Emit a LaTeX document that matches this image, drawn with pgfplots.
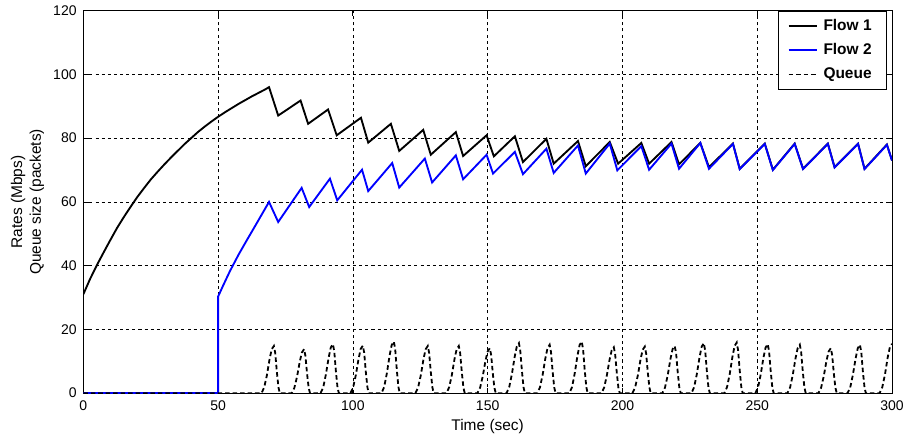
\documentclass[border=0pt]{standalone}
\usepackage{fontspec}
\setmainfont{Liberation Sans}
\usepackage{pgfplots}
\pgfplotsset{compat=1.18}

\definecolor{flowblue}{RGB}{0,0,255}

\begin{document}
\begin{tikzpicture}
\useasboundingbox (-62.5pt,-35.8pt) rectangle (618pt,295pt);
\begin{axis}[
  at={(0,0)}, anchor=south west,
  scale only axis,
  width=606.75pt, height=287pt,
  xmin=0, xmax=300, ymin=0, ymax=120,
  xtick={0,50,...,300}, ytick={0,20,...,120},
  /pgf/number format/assume math mode=true,
  tick label style={font=\fontsize{10.5}{12}\selectfont},
  xticklabel style={yshift=-2.5pt},
  yticklabel style={xshift=-1.5pt},
  label style={font=\fontsize{11.6}{14}\selectfont},
  xlabel={Time (sec)},
  ylabel={Rates (Mbps)\\Queue size (packets)},
  ylabel style={align=center},
  xlabel style={yshift=1pt},
  axis line style={black, line width=0.7pt},
  tick style={black, line width=0.6pt},
  major tick length=4pt,
  tick align=inside,
  grid=major,
  major grid style={black, line width=0.55pt, dash pattern=on 2.3pt off 2.3pt},
  legend cell align=left,
  legend image code/.code={\draw[#1] (0pt,0pt) -- (21.5pt,0pt);},
  legend style={
    at={(rel axis cs:1,1)}, anchor=north east, xshift=-4pt,
    draw=black, line width=0.6pt, fill=white,
    font=\bfseries\fontsize{11.6}{13}\selectfont,
    inner xsep=7pt, inner ysep=4pt, row sep=4.5pt,
    nodes={inner xsep=4pt}
  },
]

% Flow 1: slow start, then AIMD sawtooth
\addplot[black, line width=1.4pt] coordinates {
(0,31.0) (2.5,35.8) (5,40.1) (7.5,44.1) (10,48.0) (12.5,51.8) (15,55.2)
(17.5,58.4) (20,61.5) (22.5,64.3) (25,67.0) (27.5,69.4) (30,71.7)
(32.5,73.9) (35,76.0) (37.5,78.1) (40,80.0) (42.5,81.9) (45,83.6)
(47.5,85.2) (50,86.7) (52.5,88.1) (55,89.4) (57.5,90.7) (60,91.9)
(62.5,93.1) (65,94.2) (67.5,95.3) (68.9,96.0)
(72.3,87.1) (80.6,91.8) (83.4,84.5) (90.8,89.0) (94.0,80.9)
(103.0,86.4) (105.7,78.6) (114.1,84.5) (117.2,76.0) (126.1,82.6)
(128.9,74.8) (138.2,81.9) (140.9,74.4) (149.6,80.9) (152.3,74.3)
(160.1,80.6) (163.1,72.5) (171.8,79.8) (174.5,72.0) (183.5,79.1)
(186.4,71.2) (195.3,78.8) (198.4,72.0) (207.0,78.5) (209.9,72.0)
(218.2,78.8) (221.0,71.8) (228.9,78.5) (232.1,70.9) (241.0,78.3)
(243.5,70.4) (252.8,78.3) (255.8,70.1) (263.9,78.3) (267.0,70.4)
(276.2,78.3) (278.7,70.9) (287.4,78.3) (289.8,70.4) (298.1,78.0)
(300,73.0)
};
\addlegendentry{Flow 1}

% Flow 2: joins at t = 50 s
\addplot[flowblue, line width=1.4pt] coordinates {
(0,0) (50,0) (50,30.3) (52,34.0) (54.4,38.3) (57.5,43.3) (60.6,47.9)
(63.5,52.1) (66.3,56.2) (68.9,60.0)
(72.3,53.7) (81.0,64.4) (83.8,58.4) (91.5,67.3) (94.2,60.5)
(103.4,70.1) (105.7,63.4) (114.6,72.2) (117.2,64.5) (126.7,73.6)
(129.4,66.1) (138.2,74.6) (140.9,67.1) (149.6,74.8) (152.0,68.9)
(160.1,75.7) (163.1,68.7) (171.8,76.7) (174.5,69.1) (183.5,77.7)
(186.4,68.9) (195.3,78.3) (198.1,69.9) (207.0,77.5) (209.9,70.1)
(218.2,78.3) (221.0,70.4) (228.9,78.5) (232.1,70.4) (241.0,78.2)
(243.5,70.3) (252.8,78.2) (255.8,70.0) (263.9,78.2) (267.0,70.3)
(276.2,78.2) (278.7,70.8) (287.4,78.2) (289.8,70.3) (298.1,77.9)
(300,73.0)
};
\addlegendentry{Flow 2}

% Bottleneck queue length
\addplot[black, line width=1.35pt, dash pattern=on 3.4pt off 2.2pt] coordinates {
(0,0)
(66.1,0) (67.1,1.8) (68.1,5.6) (69.1,10.7) (69.9,13.8) (70.7,14.8) (71.2,12.6) (71.8,6.7) (72.4,1.8) (72.9,0)
(77.3,0) (78.3,1.7) (79.3,5.2) (80.3,9.9) (81.1,12.8) (81.9,13.8) (82.4,11.7) (83.0,6.2) (83.6,1.7) (84.1,0)
(88.0,0) (89.0,1.8) (90.0,5.9) (91.0,11.1) (91.8,14.3) (92.6,15.4) (93.1,13.1) (93.7,6.9) (94.3,1.8) (94.8,0)
(99.1,0) (100.1,1.8) (101.1,5.7) (102.1,10.7) (102.9,13.9) (103.7,14.9) (104.2,12.7) (104.8,6.7) (105.4,1.8) (105.9,0)
(110.6,0) (111.6,1.9) (112.6,6.2) (113.6,11.7) (114.4,15.1) (115.2,16.2) (115.7,13.8) (116.3,7.3) (116.9,1.9) (117.4,0)
(123.2,0) (124.2,1.8) (125.2,5.6) (126.2,10.7) (127.0,13.8) (127.8,14.8) (128.3,12.6) (128.9,6.7) (129.5,1.8) (130.0,0)
(134.7,0) (135.7,1.8) (136.7,5.6) (137.7,10.7) (138.5,13.8) (139.3,14.8) (139.8,12.6) (140.4,6.7) (141.0,1.8) (141.5,0)
(146.2,0) (147.2,1.7) (148.2,5.4) (149.2,10.2) (150.0,13.1) (150.8,14.1) (151.3,12.0) (151.9,6.3) (152.5,1.7) (153.0,0)
(157.0,0) (158.0,1.9) (159.0,6.0) (160.0,11.3) (160.8,14.6) (161.6,15.7) (162.1,13.3) (162.7,7.1) (163.3,1.9) (163.8,0)
(168.4,0) (169.4,1.8) (170.4,5.8) (171.4,10.9) (172.2,14.1) (173.0,15.2) (173.5,12.9) (174.1,6.8) (174.7,1.8) (175.2,0)
(180.3,0) (181.3,1.9) (182.3,6.2) (183.3,11.7) (184.1,15.1) (184.9,16.2) (185.4,13.8) (186.0,7.3) (186.6,1.9) (187.1,0)
(192.2,0) (193.2,1.7) (194.2,5.5) (195.2,10.4) (196.0,13.4) (196.8,14.4) (197.3,12.2) (197.9,6.5) (198.5,1.7) (199.0,0)
(203.7,0) (204.7,1.8) (205.7,5.5) (206.7,10.5) (207.5,13.6) (208.3,14.6) (208.8,12.4) (209.4,6.6) (210.0,1.8) (210.5,0)
(214.8,0) (215.8,1.8) (216.8,5.6) (217.8,10.7) (218.6,13.8) (219.4,14.8) (219.9,12.6) (220.5,6.7) (221.1,1.8) (221.6,0)
(225.6,0) (226.6,1.9) (227.6,6.0) (228.6,11.3) (229.4,14.6) (230.2,15.7) (230.7,13.3) (231.3,7.1) (231.9,1.9) (232.4,0)
(237.8,0) (238.8,1.9) (239.8,6.0) (240.8,11.4) (241.6,14.8) (242.4,15.9) (242.9,13.5) (243.5,7.2) (244.1,1.9) (244.6,0)
(249.3,0) (250.3,1.8) (251.3,5.9) (252.3,11.1) (253.1,14.3) (253.9,15.4) (254.4,13.1) (255.0,6.9) (255.6,1.8) (256.1,0)
(261.2,0) (262.2,1.8) (263.2,5.8) (264.2,10.9) (265.0,14.1) (265.8,15.2) (266.3,12.9) (266.9,6.8) (267.5,1.8) (268.0,0)
(272.7,0) (273.7,1.7) (274.7,5.4) (275.7,10.2) (276.5,13.1) (277.3,14.1) (277.8,12.0) (278.4,6.3) (279.0,1.7) (279.5,0)
(283.5,0) (284.5,1.8) (285.5,5.8) (286.5,10.9) (287.3,14.1) (288.1,15.2) (288.6,12.9) (289.2,6.8) (289.8,1.8) (290.3,0)
(295.4,0) (296.4,1.9) (297.4,5.9) (298.4,11.2) (299.2,14.4) (300.0,15.5)
};
\addlegendentry{Queue}

\end{axis}
\end{tikzpicture}
\end{document}
